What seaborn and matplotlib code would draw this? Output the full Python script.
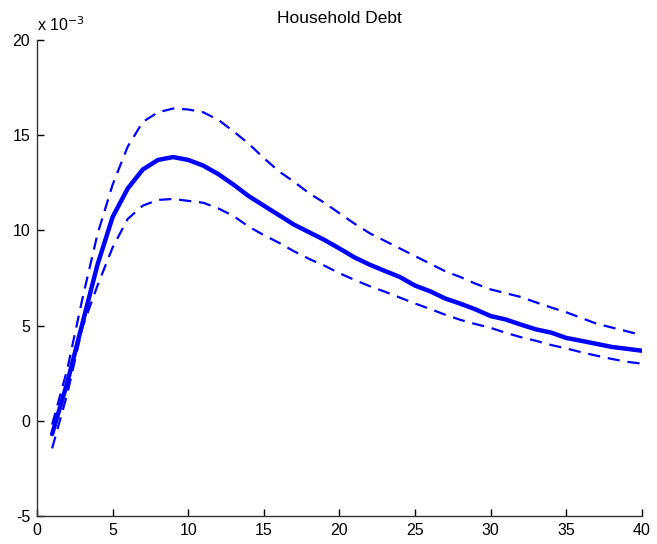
import numpy as np
import pandas as pd
import matplotlib
matplotlib.use("Agg")
import matplotlib.pyplot as plt
import seaborn as sns

horizon = list(range(1, 41))
median_resp = [-0.7, 2.0, 5.1, 8.2, 10.7, 12.2, 13.2, 13.7, 13.85, 13.7,
               13.4, 12.95, 12.4, 11.8, 11.3, 10.8, 10.3, 9.9, 9.5, 9.05,
               8.58, 8.2, 7.87, 7.55, 7.1, 6.8, 6.42, 6.15, 5.85, 5.5,
               5.32, 5.05, 4.8, 4.63, 4.35, 4.2, 4.04, 3.88, 3.78, 3.68]
upper_band = [-0.2, 2.7, 6.4, 9.8, 12.4, 14.4, 15.7, 16.2, 16.4, 16.35,
              16.2, 15.8, 15.2, 14.55, 13.8, 13.1, 12.55, 11.95, 11.45, 10.9,
              10.35, 9.85, 9.45, 9.05, 8.65, 8.25, 7.85, 7.55, 7.2, 6.9,
              6.7, 6.5, 6.22, 5.95, 5.7, 5.4, 5.1, 4.9, 4.7, 4.5]
lower_band = [-1.45, 1.4, 4.9, 7.1, 9.1, 10.6, 11.3, 11.6, 11.65, 11.55,
              11.45, 11.15, 10.75, 10.2, 9.75, 9.35, 8.9, 8.5, 8.15, 7.75,
              7.4, 7.07, 6.78, 6.47, 6.16, 5.87, 5.57, 5.3, 5.08, 4.88,
              4.62, 4.39, 4.2, 3.98, 3.8, 3.6, 3.42, 3.25, 3.1, 3.0]
title = "Household Debt"
xticks = [0, 5, 10, 15, 20, 25, 30, 35, 40]
yticks = [-5, 0, 5, 10, 15, 20]

scale = 1e-3
df = pd.DataFrame({
    "h": horizon,
    "median": np.array(median_resp) * scale,
    "upper": np.array(upper_band) * scale,
    "lower": np.array(lower_band) * scale,
})

sns.set_style("ticks")
plt.rcParams["font.family"] = ["Liberation Sans", "DejaVu Sans"]
plt.rcParams["xtick.direction"] = "in"
plt.rcParams["ytick.direction"] = "in"
plt.rcParams["text.color"] = "black"

fig = plt.figure(figsize=(6.57, 5.44), dpi=100)
ax = fig.add_axes([0.0563, 0.0515, 0.9207, 0.875])

blue = "#0000ff"
sns.lineplot(data=df, x="h", y="upper", ax=ax, color=blue, linewidth=1.6,
             dashes=False)
sns.lineplot(data=df, x="h", y="lower", ax=ax, color=blue, linewidth=1.6,
             dashes=False)
for ln in ax.lines:
    ln.set_dashes((5.5, 3.5))
sns.lineplot(data=df, x="h", y="median", ax=ax, color=blue, linewidth=3.2)

ax.set_xlim(0, 40)
ax.set_ylim(-5 * scale, 20 * scale)
ax.set_xticks(xticks)
ax.set_xticklabels([str(t) for t in xticks])
ax.set_yticks([t * scale for t in yticks])
ax.set_yticklabels([str(t) for t in yticks])
ax.set_xlabel("")
ax.set_ylabel("")
ax.tick_params(axis="both", labelsize=11.5, length=5, width=1, colors="#000000",
               pad=5)
for side in ["top", "right"]:
    ax.spines[side].set_visible(False)
for side in ["left", "bottom"]:
    ax.spines[side].set_color("#333333")
    ax.spines[side].set_linewidth(1.0)

ax.set_title(title, fontsize=12.5, pad=12, color="black")
ax.text(0.0, 1.012, r"x 10$^{-3}$", transform=ax.transAxes, fontsize=11.5,
        ha="left", va="bottom", color="black")

fig.savefig("out.png", dpi=100)
